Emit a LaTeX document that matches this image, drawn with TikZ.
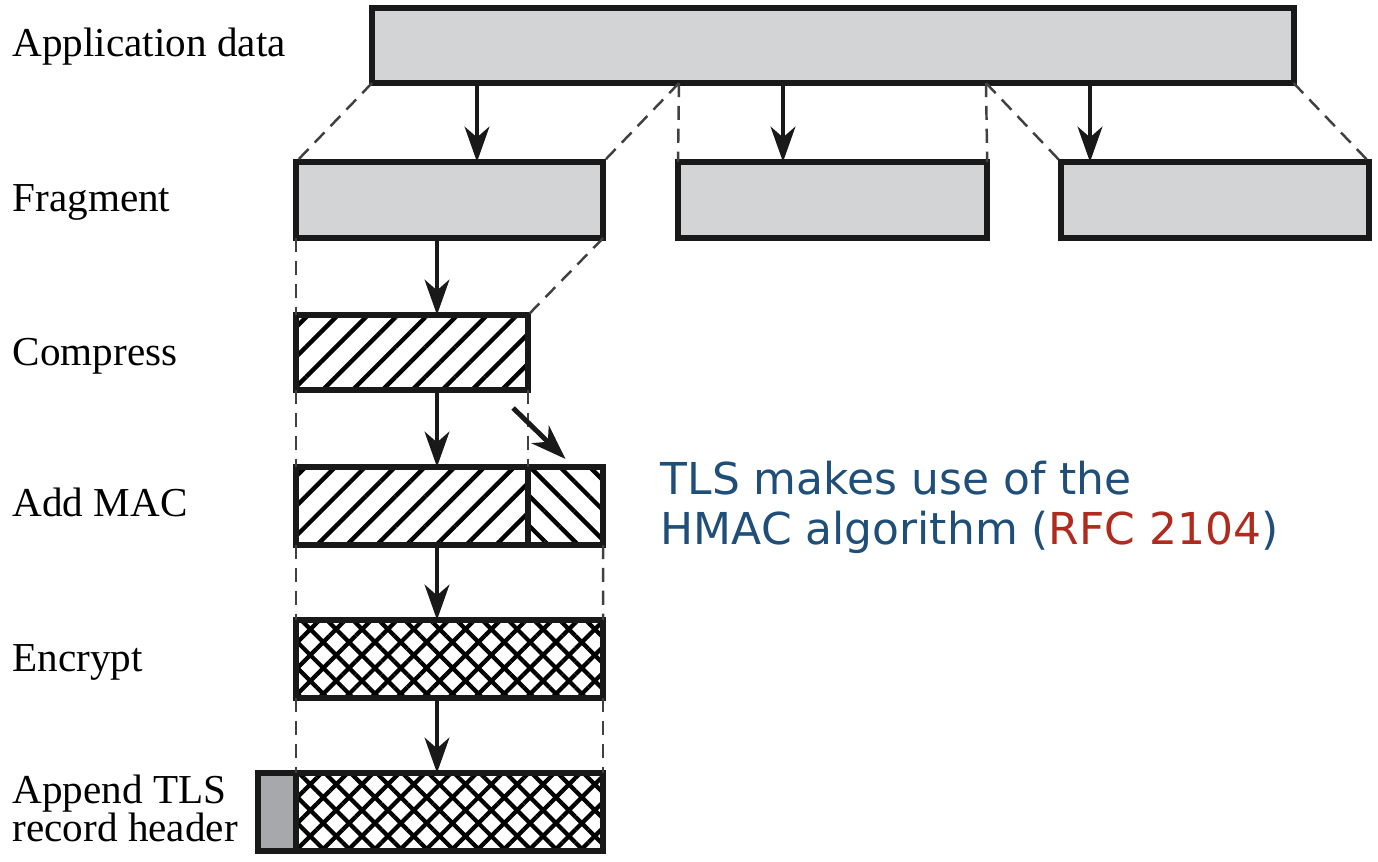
\documentclass[tikz,border=0pt]{standalone}
\usepackage{fontspec}
\setmainfont{Liberation Serif}
\newfontfamily\notefont{DejaVu Sans}
\usetikzlibrary{arrows.meta,patterns.meta}
\definecolor{boxgray}{RGB}{211,212,214}
\definecolor{hdrgray}{RGB}{167,168,171}
\definecolor{noteblue}{RGB}{31,78,121}
\definecolor{notered}{RGB}{176,42,30}

\begin{document}
\begin{tikzpicture}[x=0.01cm, y=-0.01cm,
  block/.style={rectangle, draw=black!90, line width=1.7pt, anchor=north west, inner sep=0pt, outer sep=0pt, minimum height=0.76cm},
  greybox/.style={block, fill=boxgray},
  hatchbox/.style={block, pattern={Lines[angle=45,distance=6pt,line width=1.25pt]}},
  backbox/.style={block, pattern={Lines[angle=-45,distance=6pt,line width=1.25pt]}},
  crossbox/.style={block, pattern={Hatch[angle=45,distance=5.2pt,line width=1.2pt]}},
  steplabel/.style={anchor=base west, inner sep=0pt, font=\fontsize{11.7}{11}\selectfont},
  guide/.style={draw=black!75, line width=0.7pt, dash pattern=on 4pt off 2.5pt},
  arr/.style={draw=black!90, line width=1.4pt, -{Stealth[length=10pt,width=7pt,inset=3pt]}}
]
  \useasboundingbox (0,0) rectangle (1378,862);

  % blocks
  \node[greybox, minimum width=9.21cm, minimum height=0.75cm] (appdata) at (372,8) {};
  \node[greybox, minimum width=3.07cm] (frag1) at (296,162) {};
  \node[greybox, minimum width=3.09cm] (frag2) at (678,162) {};
  \node[greybox, minimum width=3.08cm] (frag3) at (1061,162) {};
  \node[hatchbox, minimum width=2.32cm, minimum height=0.75cm] (comp) at (296,315) {};
  \node[hatchbox, minimum width=2.32cm, minimum height=0.78cm] (mac1) at (296,467) {};
  \node[backbox, minimum width=0.75cm, minimum height=0.78cm] (mac2) at (528,467) {};
  \node[crossbox, minimum width=3.07cm, minimum height=0.78cm] (enc) at (296,620) {};
  \node[greybox, fill=hdrgray, minimum width=0.38cm, minimum height=0.78cm] (hdr) at (258,773) {};
  \node[crossbox, minimum width=3.07cm, minimum height=0.78cm] (rec) at (296,773) {};

  % labels
  \node[steplabel] (lapp) at (12,57) {Application data};
  \node[steplabel] (lfrag) at (12,212) {Fragment};
  \node[steplabel] (lcomp) at (12,366) {Compress};
  \node[steplabel] (lmac) at (12,517) {Add MAC};
  \node[steplabel] (lenc) at (12,672) {Encrypt};
  \node[steplabel, align=left] (lrec) at (12,842) {Append TLS\\record header};

  \node[anchor=north west, inner sep=0pt, align=left, text=noteblue,
        font=\notefont\fontsize{12.5}{14.2}\selectfont] (note) at (660,460)
    {TLS makes use of the\\HMAC algorithm (\textcolor{notered}{RFC 2104})};

  % dashed guides
  \draw[guide] (appdata.south west) -- (frag1.north west);
  \draw[guide] (appdata.south -| 679,0) -- (frag1.north east);
  \draw[guide] (appdata.south -| 679,0) -- (frag2.north west);
  \draw[guide] (appdata.south -| 986,0) -- (frag2.north east);
  \draw[guide] (appdata.south -| 986,0) -- (frag3.north west);
  \draw[guide] (appdata.south east) -- (frag3.north east);
  \draw[guide] (frag1.south west) -- (comp.north west);
  \draw[guide] (frag1.south east) -- (comp.north east);
  \draw[guide] (comp.south west) -- (mac1.north west);
  \draw[guide] (comp.south east) -- (mac1.north east);
  \draw[guide] (mac1.south west) -- (enc.north west);
  \draw[guide] (mac2.south east) -- (enc.north east);
  \draw[guide] (enc.south west) -- (rec.north west);
  \draw[guide] (enc.south east) -- (rec.north east);

  % arrows
  \draw[arr] (appdata.south -| 477,0) -- (frag1.north -| 477,0);
  \draw[arr] (appdata.south -| 783,0) -- (frag2.north -| 783,0);
  \draw[arr] (appdata.south -| 1090,0) -- (frag3.north -| 1090,0);
  \draw[arr] (frag1.south -| 437,0) -- (comp.north -| 437,0);
  \draw[arr] (comp.south -| 437,0) -- (mac1.north -| 437,0);
  \draw[arr] (mac1.south -| 437,0) -- (enc.north -| 437,0);
  \draw[arr] (enc.south -| 437,0) -- (rec.north -| 437,0);
  \draw[arr] ([xshift=-0.15cm,yshift=-0.18cm]comp.south east) -- ([yshift=0.08cm]mac2.north);
\end{tikzpicture}
\end{document}
